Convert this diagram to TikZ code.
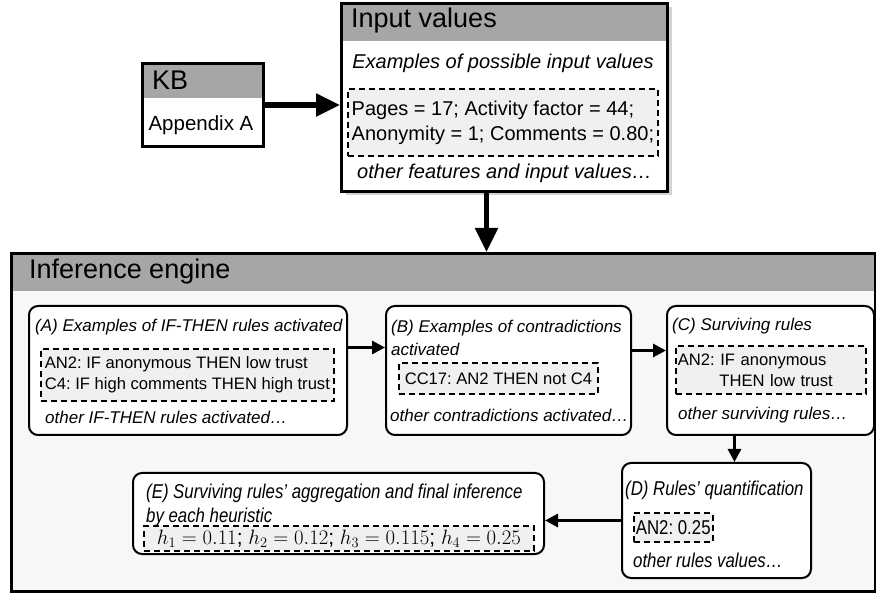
\documentclass[tikz,border=0pt]{standalone}
\usepackage{fontspec}
\setmainfont{Liberation Sans}
\newfontfamily\narrowfont[FakeStretch=0.84]{Liberation Sans}
\usetikzlibrary{positioning, shadows, arrows.meta}
\frenchspacing
\definecolor{headgray}{HTML}{A6A6A6}
\definecolor{exgray}{HTML}{F0F0F0}
\definecolor{enginegray}{HTML}{F7F7F7}
\tikzset{
frame/.style={draw, line width=3pt, anchor=north west, inner sep=0pt}, % the square boxes
header/.style={path picture={\fill[headgray] (path picture bounding box.north west) rectangle ([yshift=-#1]path picture bounding box.north east);}}, % grey title band
shade/.style={drop shadow={shadow xshift=4pt, shadow yshift=-4pt, opacity=0.35}},
stepbox/.style={draw, line width=2pt, rounded corners=9pt, fill=white, anchor=north west, inner sep=0pt}, % one step of the engine
exbox/.style={draw, line width=1.8pt, dash pattern=on 6pt off 4pt, fill=exgray, anchor=north west, align=left, inner xsep=2pt, inner ysep=0pt}, % example values
title/.style={anchor=west, inner sep=0pt, font=\fontsize{27}{30}\selectfont},
body/.style={anchor=center, inner sep=0pt, font=\fontsize{20.5}{25}\selectfont},
note/.style={anchor=west, inner sep=0pt, font=\fontsize{20}{25}\selectfont\itshape},
inputfont/.style={font=\fontsize{20}{25}\selectfont},
stepfont/.style={font=\fontsize{16.6}{21}\selectfont},
stepnote/.style={anchor=west, inner sep=0pt, align=left, font=\fontsize{17}{23}\selectfont\itshape},
narrowfont/.style={font=\narrowfont\fontsize{20}{24}\selectfont},
narrownote/.style={anchor=west, inner sep=0pt, align=left, font=\narrowfont\fontsize{20}{24}\selectfont\itshape},
flow/.style={-{Triangle[length=13pt, width=13pt]}, line width=3pt},
bigflow/.style={-{Triangle[length=24pt, width=22pt]}, line width=5.5pt},
}
\begin{document}
\begin{tikzpicture}[x=1pt, y=-1pt]
\useasboundingbox (0,0) rectangle (876,593);

% knowledge base and input values
\node[frame, header=35pt, fill=white, minimum width=121pt, minimum height=83pt] (kb) at (141,62) {};
\node[title] (kb_title) at (152,80) {KB};
\node[body] (kb_text) at (201,125) {Appendix A};

\node[frame, header=38pt, fill=white, shade, minimum width=326pt, minimum height=188pt] (input) at (340,2) {};
\node[title] (input_title) at (351,21) {Input values};
\node[note, anchor=center] (input_sub) at (503,63) {Examples of possible input values};
\node[exbox, inputfont, minimum width=310pt, minimum height=67pt] (input_ex) at (347,88)
  {Pages = 17; Activity factor = 44;\\Anonymity = 1; Comments = 0.80;};
\node[note] (input_more) at (357,173) {other features and input values…};

% inference engine
\node[frame, header=38pt, fill=enginegray, shade, minimum width=864pt, minimum height=338pt] (engine) at (10,252) {};
\node[title] (engine_title) at (29,272) {Inference engine};

\node[stepbox, minimum width=318pt, minimum height=129pt] (step_a) at (28,305) {};
\node[stepnote] (step_a_title) at (35,327) {(A) Examples of IF-THEN rules activated};
\node[exbox, stepfont, minimum width=293pt, minimum height=52pt] (ex_a) at (40,348)
  {AN2: IF anonymous THEN low trust\\C4: IF high comments THEN high trust};
\node[stepnote] (step_a_more) at (45,417) {other IF-THEN rules activated…};

\node[stepbox, minimum width=245pt, minimum height=129pt] (step_b) at (385,305) {};
\node[stepnote] (step_b_title) at (391,337.5) {(B) Examples of contradictions\\activated};
\node[exbox, stepfont, minimum width=199pt, minimum height=31pt] (ex_b) at (398,362) {CC17: AN2 THEN not C4};
\node[stepnote] (step_b_more) at (390,415) {other contradictions activated…};

\node[stepbox, minimum width=207pt, minimum height=129pt] (step_c) at (666,305) {};
\node[stepnote] (step_c_title) at (672,326) {(C) Surviving rules};
\node[exbox, stepfont, text width=186pt, minimum height=48pt] (ex_c) at (675,345)
  {AN2: IF anonymous\\\hspace*{2.5em}THEN low trust};
\node[stepnote] (step_c_more) at (678,415) {other surviving rules…};

\node[stepbox, minimum width=189pt, minimum height=115pt] (step_d) at (621,462) {};
\node[narrownote] (step_d_title) at (625,490) {(D) Rules’ quantification};
\node[exbox, narrowfont, minimum width=70pt, minimum height=29pt] (ex_d) at (633,512) {AN2: 0.25};
\node[narrownote] (step_d_more) at (633,560) {other rules values…};

\node[stepbox, minimum width=411pt, minimum height=81pt] (step_e) at (132,472) {};
\node[narrownote] (step_e_title) at (146,505) {(E) Surviving rules’ aggregation and final inference\\by each heuristic};
\node[exbox, minimum width=390pt, minimum height=25pt, font=\fontsize{21}{23}\selectfont] (ex_e) at (143,525)
  {$h_1 = 0.11$; $h_2 = 0.12$; $h_3 = 0.115$; $h_4 = 0.25$};

\draw[bigflow] (kb.east) -- (kb.east -| input.west);
\draw[bigflow] ([xshift=-18pt]input.south) -- ([xshift=-18pt]input.south |- engine.north);
\draw[flow] ([yshift=23pt]step_a.east) -- ([yshift=23pt]step_a.east -| step_b.west);
\draw[flow] ([yshift=20pt]step_b.east) -- ([yshift=20pt]step_b.east -| step_c.west);
\draw[flow] ([xshift=-36pt]step_c.south) -- ([xshift=-36pt]step_c.south |- step_d.north);
\draw[flow] (step_d.west) -- (step_d.west -| step_e.east);
\end{tikzpicture}
\end{document}
